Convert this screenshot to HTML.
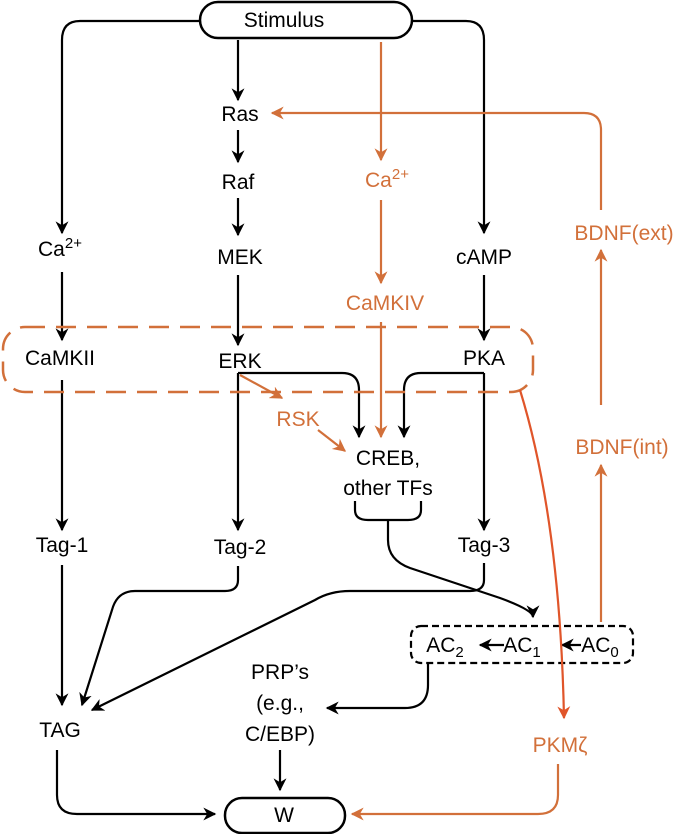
<!DOCTYPE html>
<html><head><meta charset="utf-8"><style>
html,body{margin:0;padding:0;background:#fff;}
svg{display:block;}
text{font-family:"Liberation Sans",Arial,sans-serif;font-size:21px;text-anchor:middle;}
.k{fill:#000}.o{fill:#d2703a}
</style></head><body>
<svg width="685" height="834" viewBox="0 0 685 834" xmlns="http://www.w3.org/2000/svg">
<defs>
<marker id="ak" viewBox="0 0 10 10" refX="9" refY="5" markerWidth="13" markerHeight="13" orient="auto-start-reverse" markerUnits="userSpaceOnUse"><path d="M0,0 L10,5 L0,10 L3,5 z" fill="#000"/></marker>
<marker id="ao" viewBox="0 0 10 10" refX="9" refY="5" markerWidth="13" markerHeight="13" orient="auto-start-reverse" markerUnits="userSpaceOnUse"><path d="M0,0 L10,5 L0,10 L3,5 z" fill="#d2703a"/></marker>
<marker id="ar" viewBox="0 0 10 10" refX="9" refY="5" markerWidth="13" markerHeight="13" orient="auto-start-reverse" markerUnits="userSpaceOnUse"><path d="M0,0 L10,5 L0,10 L3,5 z" fill="#e0552a"/></marker>
</defs>
<g fill="none" stroke="#000" stroke-width="2.2">
<rect x="200" y="2" width="212" height="36" rx="18" stroke-width="2.5"/>
<rect x="225" y="798" width="120" height="35" rx="17" stroke-width="2.5"/>
<path d="M200,21 H80 Q62,21 62,40 V233" marker-end="url(#ak)"/>
<path d="M412,21 H466 Q484,21 484,40 V233" marker-end="url(#ak)"/>
<path d="M238,40 V100" marker-end="url(#ak)"/>
<path d="M238,130 V162" marker-end="url(#ak)"/>
<path d="M238,198 V235" marker-end="url(#ak)"/>
<path d="M238,275 V345" marker-end="url(#ak)"/>
<path d="M62,272 V340" marker-end="url(#ak)"/>
<path d="M484,275 V340" marker-end="url(#ak)"/>
<path d="M62,380 V530" marker-end="url(#ak)"/>
<path d="M238,373 V530" marker-end="url(#ak)"/>
<path d="M484,373 V530" marker-end="url(#ak)"/>
<path d="M238,373 H342 Q359,373 359,390 V437" marker-end="url(#ak)"/>
<path d="M484,373 H421 Q404,373 404,390 V437" marker-end="url(#ak)"/>
<path d="M355,501 V510 Q355,520 368,520 H408 Q421,520 421,510 V501"/>
<path d="M388,520 V540 Q388,560 410,568 L500,598 Q533,610 533,617" marker-end="url(#ak)"/>
<path d="M62,565 V705" marker-end="url(#ak)"/>
<path d="M238,566 V580 Q238,591 225,591 H135 Q117,591 112,610 L82,705" marker-end="url(#ak)"/>
<path d="M484,563 V580 Q484,591 470,591 H350 Q330,591 315,600 L92,710" marker-end="url(#ak)"/>
<rect x="411" y="626" width="222" height="37" rx="10" stroke-dasharray="7,4"/>
<path d="M581,645 H562" marker-end="url(#ak)"/>
<path d="M504,645 H480" marker-end="url(#ak)"/>
<path d="M428,663 V685 Q428,708 405,708 H327" marker-end="url(#ak)"/>
<path d="M280,750 V790" marker-end="url(#ak)"/>
<path d="M57,750 V795 Q57,814 77,814 H215" marker-end="url(#ak)"/>
</g>
<g fill="none" stroke="#d2703a" stroke-width="2.2">
<rect x="3" y="327" width="530" height="65" rx="22" stroke-dasharray="20,11" stroke-width="2.5"/>
<path d="M381,42 V160" marker-end="url(#ao)"/>
<path d="M381,200 V283" marker-end="url(#ao)"/>
<path d="M381,322 V437" marker-end="url(#ao)"/>
<path d="M601,210 V130 Q601,113 584,113 H272" marker-end="url(#ao)"/>
<path d="M601,405 V250" marker-end="url(#ao)"/>
<path d="M601,622 V465" marker-end="url(#ao)"/>
<path d="M240,375 L282,398" marker-end="url(#ao)"/>
<path d="M318,430 L345,451" marker-end="url(#ao)"/>
<path d="M558,764 V795 Q558,814 538,814 H352" marker-end="url(#ao)"/>
</g>
<path d="M520,390 Q560,520 564,718" fill="none" stroke="#e0552a" stroke-width="2.2" marker-end="url(#ar)"/>
<g class="k">
<text x="284" y="27">Stimulus</text>
<text x="240" y="121">Ras</text>
<text x="238" y="189">Raf</text>
<text x="240" y="264">MEK</text>
<text x="60" y="256">Ca<tspan font-size="15" dy="-8">2+</tspan></text>
<text x="484" y="264">cAMP</text>
<text x="60" y="365">CaMKII</text>
<text x="240" y="368">ERK</text>
<text x="484" y="365">PKA</text>
<text x="388" y="465">CREB,</text>
<text x="388" y="495">other TFs</text>
<text x="62" y="552">Tag-1</text>
<text x="240" y="554">Tag-2</text>
<text x="484" y="552">Tag-3</text>
<text x="445" y="652">AC<tspan font-size="15" dy="5">2</tspan></text>
<text x="522" y="652">AC<tspan font-size="15" dy="5">1</tspan></text>
<text x="600" y="652">AC<tspan font-size="15" dy="5">0</tspan></text>
<text x="280" y="679">PRP’s</text>
<text x="280" y="710">(e.g.,</text>
<text x="280" y="741">C/EBP)</text>
<text x="60" y="737">TAG</text>
<text x="284" y="822">W</text>
</g>
<g class="o">
<text x="387" y="187">Ca<tspan font-size="15" dy="-8">2+</tspan></text>
<text x="385" y="310">CaMKIV</text>
<text x="298" y="426">RSK</text>
<text x="624" y="240">BDNF(ext)</text>
<text x="622" y="454">BDNF(int)</text>
<text x="560" y="752">PKMζ</text>
</g>
</svg>
</body></html>
